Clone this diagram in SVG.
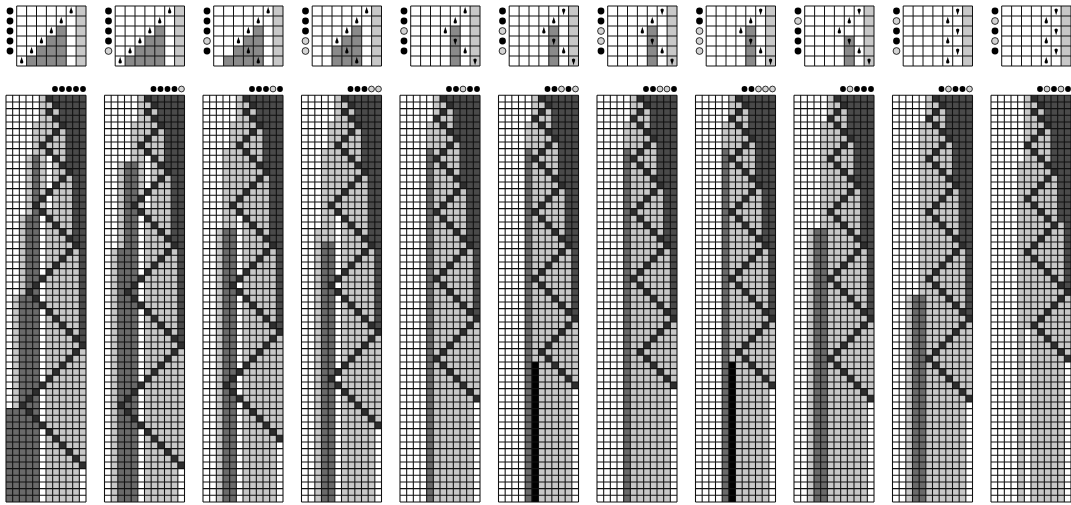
<svg xmlns="http://www.w3.org/2000/svg" xmlns:xlink="http://www.w3.org/1999/xlink" width="1071" height="505" viewBox="0 0 1071 505">
<style>
.w{fill:#fff}.l{fill:#c8c8c8}.m{fill:#6a6a6a}.d{fill:#4a4a4a}.k{fill:#000}.ic{fill:#8a8a8a}
.hp{fill:none;stroke:none;marker-start:url(#hc);marker-mid:url(#hc);marker-end:url(#hc)}
.gr{fill:none;stroke:#111;stroke-width:.16}
.ig{fill:none;stroke:#111;stroke-width:1}
.b1{fill:#000}.b0{fill:#d4d4d4;stroke:#000;stroke-width:.8}
</style>
<defs>
<marker id="hc" markerUnits="userSpaceOnUse" markerWidth="1" markerHeight="1" refX="0" refY="0" overflow="visible"><rect width="1" height="1" fill="#2e2e2e"/></marker>
<path id="tg" class="gr" d="M0 0V61M1 0V61M2 0V61M3 0V61M4 0V61M5 0V61M6 0V61M7 0V61M8 0V61M9 0V61M10 0V61M11 0V61M12 0V61M0 0H12M0 1H12M0 2H12M0 3H12M0 4H12M0 5H12M0 6H12M0 7H12M0 8H12M0 9H12M0 10H12M0 11H12M0 12H12M0 13H12M0 14H12M0 15H12M0 16H12M0 17H12M0 18H12M0 19H12M0 20H12M0 21H12M0 22H12M0 23H12M0 24H12M0 25H12M0 26H12M0 27H12M0 28H12M0 29H12M0 30H12M0 31H12M0 32H12M0 33H12M0 34H12M0 35H12M0 36H12M0 37H12M0 38H12M0 39H12M0 40H12M0 41H12M0 42H12M0 43H12M0 44H12M0 45H12M0 46H12M0 47H12M0 48H12M0 49H12M0 50H12M0 51H12M0 52H12M0 53H12M0 54H12M0 55H12M0 56H12M0 57H12M0 58H12M0 59H12M0 60H12M0 61H12"/>
<path id="ig" class="ig" d="M0 0V60M9.9 0V60M19.8 0V60M29.7 0V60M39.6 0V60M49.5 0V60M59.4 0V60M69.3 0V60M0 0H69.3M0 10H69.3M0 20H69.3M0 30H69.3M0 40H69.3M0 50H69.3M0 60H69.3"/>
<g id="pu"><path d="M0-4.2L1.3 0H-1.3Z"/><circle cy="0.9" r="1.7"/></g>
<g id="pd"><path d="M0 4.2L1.3 0H-1.3Z"/><circle cy="-0.9" r="1.7"/></g>
</defs>

<g id="p1" transform="translate(6 0)">
 <g transform="translate(0 95.3) scale(6.6667)">
  <rect class="w" width="12" height="61"/>
  <path class="l" d="M5 0H12V61H1V30H2V18H3V9H4V4H5Z"/>
  <path class="m" d="M4 9H5V61H0V47H2V30H3V18H4Z"/>
  <path class="w" d="M6 8h1v9h-1zM5 17h1v44h-1zM11 56h1v5h-1z"/>
  <path class="d" d="M7 0H12V37H11V22H10V11H9V4H8V1H7Z"/>
  <polyline class="hp" points="6,0 7,1 6,2 7,3 8,4 7,5 6,6 5,7 6,8 7,9 8,10 9,11 8,12 7,13 6,14 5,15 4,16 5,17 6,18 7,19 8,20 9,21 10,22 9,23 8,24 7,25 6,26 5,27 4,28 3,29 4,30 5,31 6,32 7,33 8,34 9,35 10,36 11,37 10,38 9,39 8,40 7,41 6,42 5,43 4,44 3,45 2,46 3,47 4,48 5,49 6,50 7,51 8,52 9,53 10,54 11,55"/>
  <use href="#tg"/>
 </g>
 <g transform="translate(10.7 6)">
  <rect class="l" x="59.4" width="9.9" height="60"/>
  <path class="ic" d="M39.6 20H49.5V60H9.9V50H19.8V40H29.7V30H39.6Z"/>
  <use href="#ig"/>
  <use href="#pu" x="54.45" y="5"/><use href="#pu" x="44.55" y="15"/><use href="#pu" x="34.65" y="25"/><use href="#pu" x="24.75" y="35"/><use href="#pu" x="14.85" y="45"/><use href="#pu" x="4.95" y="55"/>
 </g>
 <circle class="b1" cx="4" cy="11" r="3.4"/><circle class="b1" cx="4" cy="21" r="3.4"/><circle class="b1" cx="4" cy="31" r="3.4"/><circle class="b1" cx="4" cy="41" r="3.4"/><circle class="b1" cx="4" cy="51" r="3.4"/>
 <circle class="b1" cx="49" cy="89" r="2.9"/><circle class="b1" cx="56" cy="89" r="2.9"/><circle class="b1" cx="63" cy="89" r="2.9"/><circle class="b1" cx="70" cy="89" r="2.9"/><circle class="b1" cx="77" cy="89" r="2.9"/>
</g>

<g id="p2" transform="translate(104.5 0)">
 <g transform="translate(0 95.3) scale(6.6667)">
  <rect class="w" width="12" height="61"/>
  <path class="l" d="M5 0H12V61H1V23H2V10H4V4H5Z"/>
  <path class="m" d="M3 10H5V61H2V23H3Z"/>
  <path class="w" d="M6 8h1v9h-1zM5 17h1v44h-1zM11 56h1v5h-1z"/>
  <path class="d" d="M7 0H12V37H11V22H10V11H9V4H8V1H7Z"/>
  <polyline class="hp" points="6,0 7,1 6,2 7,3 8,4 7,5 6,6 5,7 6,8 7,9 8,10 9,11 8,12 7,13 6,14 5,15 4,16 5,17 6,18 7,19 8,20 9,21 10,22 9,23 8,24 7,25 6,26 5,27 4,28 3,29 4,30 5,31 6,32 7,33 8,34 9,35 10,36 11,37 10,38 9,39 8,40 7,41 6,42 5,43 4,44 3,45 2,46 3,47 4,48 5,49 6,50 7,51 8,52 9,53 10,54 11,55"/>
  <use href="#tg"/>
 </g>
 <g transform="translate(10.7 6)">
  <rect class="l" x="59.4" width="9.9" height="60"/>
  <path class="ic" d="M39.6 20H49.5V60H9.9V50H19.8V40H29.7V30H39.6Z"/>
  <use href="#ig"/>
  <use href="#pu" x="54.45" y="5"/><use href="#pu" x="44.55" y="15"/><use href="#pu" x="34.65" y="25"/><use href="#pu" x="24.75" y="35"/><use href="#pu" x="14.85" y="45"/><use href="#pu" x="4.95" y="55"/>
 </g>
 <circle class="b1" cx="4" cy="11" r="3.4"/><circle class="b1" cx="4" cy="21" r="3.4"/><circle class="b1" cx="4" cy="31" r="3.4"/><circle class="b1" cx="4" cy="41" r="3.4"/><circle class="b0" cx="4" cy="51" r="3.4"/>
 <circle class="b1" cx="49" cy="89" r="2.9"/><circle class="b1" cx="56" cy="89" r="2.9"/><circle class="b1" cx="63" cy="89" r="2.9"/><circle class="b1" cx="70" cy="89" r="2.9"/><circle class="b0" cx="77" cy="89" r="2.9"/>
</g>

<g id="p3" transform="translate(203 0)">
 <g transform="translate(0 95.3) scale(6.6667)">
  <rect class="w" width="12" height="61"/>
  <path class="l" d="M5 0H12V61H2V20H3V8H4V4H5Z"/>
  <path class="m" d="M3 20H5V61H3Z"/>
  <path class="w" d="M5 17h1v44h-1zM11 52h1v9h-1z"/>
  <path class="d" d="M7 0H12V35H11V22H10V11H9V4H8V1H7Z"/>
  <polyline class="hp" points="6,0 7,1 6,2 7,3 8,4 7,5 6,6 5,7 6,8 7,9 8,10 9,11 8,12 7,13 6,14 5,15 4,16 5,17 6,18 7,19 8,20 9,21 10,22 9,23 8,24 7,25 6,26 5,27 4,28 5,29 6,30 7,31 8,32 9,33 10,34 11,35 10,36 9,37 8,38 7,39 6,40 5,41 4,42 3,43 4,44 5,45 6,46 7,47 8,48 9,49 10,50 11,51"/>
  <use href="#tg"/>
 </g>
 <g transform="translate(10.7 6)">
  <rect class="l" x="59.4" width="9.9" height="60"/>
  <path class="ic" d="M39.6 20H49.5V60H9.9V50H19.8V40H29.7V30H39.6Z"/>
  <use href="#ig"/>
  <use href="#pu" x="54.45" y="5"/><use href="#pu" x="44.55" y="15"/><use href="#pu" x="34.65" y="25"/><use href="#pu" x="24.75" y="35"/><use href="#pu" x="34.65" y="45"/><use href="#pu" x="44.55" y="55"/>
 </g>
 <circle class="b1" cx="4" cy="11" r="3.4"/><circle class="b1" cx="4" cy="21" r="3.4"/><circle class="b1" cx="4" cy="31" r="3.4"/><circle class="b0" cx="4" cy="41" r="3.4"/><circle class="b1" cx="4" cy="51" r="3.4"/>
 <circle class="b1" cx="49" cy="89" r="2.9"/><circle class="b1" cx="56" cy="89" r="2.9"/><circle class="b1" cx="63" cy="89" r="2.9"/><circle class="b0" cx="70" cy="89" r="2.9"/><circle class="b1" cx="77" cy="89" r="2.9"/>
</g>

<g id="p4" transform="translate(301.5 0)">
 <g transform="translate(0 95.3) scale(6.6667)">
  <rect class="w" width="12" height="61"/>
  <path class="l" d="M5 0H12V61H2V20H3V8H4V4H5Z"/>
  <path class="m" d="M3 22H5V61H3Z"/>
  <path class="w" d="M5 17h1v44h-1zM11 50h1v11h-1z"/>
  <path class="d" d="M7 0H12V35H11V22H10V11H9V4H8V1H7Z"/>
  <polyline class="hp" points="6,0 7,1 6,2 7,3 8,4 7,5 6,6 5,7 6,8 7,9 8,10 9,11 8,12 7,13 6,14 5,15 4,16 5,17 6,18 7,19 8,20 9,21 10,22 9,23 8,24 7,25 6,26 5,27 4,28 5,29 6,30 7,31 8,32 9,33 10,34 11,35 10,36 9,37 8,38 7,39 6,40 5,41 4,42 5,43 6,44 7,45 8,46 9,47 10,48 11,49"/>
  <use href="#tg"/>
 </g>
 <g transform="translate(10.7 6)">
  <rect class="l" x="59.4" width="9.9" height="60"/>
  <path class="ic" d="M39.6 20H49.5V60H19.8V40H29.7V30H39.6Z"/>
  <use href="#ig"/>
  <use href="#pu" x="54.45" y="5"/><use href="#pu" x="44.55" y="15"/><use href="#pu" x="34.65" y="25"/><use href="#pu" x="24.75" y="35"/><use href="#pu" x="34.65" y="45"/><use href="#pu" x="44.55" y="55"/>
 </g>
 <circle class="b1" cx="4" cy="11" r="3.4"/><circle class="b1" cx="4" cy="21" r="3.4"/><circle class="b1" cx="4" cy="31" r="3.4"/><circle class="b0" cx="4" cy="41" r="3.4"/><circle class="b0" cx="4" cy="51" r="3.4"/>
 <circle class="b1" cx="49" cy="89" r="2.9"/><circle class="b1" cx="56" cy="89" r="2.9"/><circle class="b1" cx="63" cy="89" r="2.9"/><circle class="b0" cx="70" cy="89" r="2.9"/><circle class="b0" cx="77" cy="89" r="2.9"/>
</g>

<g id="p5" transform="translate(400 0)">
 <g transform="translate(0 95.3) scale(6.6667)">
  <rect class="w" width="12" height="61"/>
  <path class="l" d="M5 0H12V61H4V4H5Z"/>
  <path class="m" d="M4 8H5V61H4Z"/>
  <path class="w" d="M11 46h1v15h-1z"/>
  <path class="d" d="M7 0H12V33H11V22H10V13H9V6H8V1H7Z"/>
  <polyline class="hp" points="6,0 7,1 6,2 5,3 6,4 7,5 8,6 7,7 6,8 5,9 6,10 7,11 8,12 9,13 8,14 7,15 6,16 5,17 6,18 7,19 8,20 9,21 10,22 9,23 8,24 7,25 6,26 5,27 6,28 7,29 8,30 9,31 10,32 11,33 10,34 9,35 8,36 7,37 6,38 5,39 6,40 7,41 8,42 9,43 10,44 11,45"/>
  <use href="#tg"/>
 </g>
 <g transform="translate(10.7 6)">
  <rect class="l" x="59.4" width="9.9" height="60"/>
  <path class="ic" d="M39.6 20H49.5V60H39.6Z"/>
  <use href="#ig"/>
  <use href="#pu" x="54.45" y="5"/><use href="#pu" x="44.55" y="15"/><use href="#pu" x="34.65" y="25"/><use href="#pd" x="44.55" y="35"/><use href="#pu" x="54.45" y="45"/><use href="#pd" x="64.35" y="55"/>
 </g>
 <circle class="b1" cx="4" cy="11" r="3.4"/><circle class="b1" cx="4" cy="21" r="3.4"/><circle class="b0" cx="4" cy="31" r="3.4"/><circle class="b1" cx="4" cy="41" r="3.4"/><circle class="b1" cx="4" cy="51" r="3.4"/>
 <circle class="b1" cx="49" cy="89" r="2.9"/><circle class="b1" cx="56" cy="89" r="2.9"/><circle class="b0" cx="63" cy="89" r="2.9"/><circle class="b1" cx="70" cy="89" r="2.9"/><circle class="b1" cx="77" cy="89" r="2.9"/>
</g>

<g id="p6" transform="translate(498.5 0)">
 <g transform="translate(0 95.3) scale(6.6667)">
  <rect class="w" width="12" height="61"/>
  <path class="l" d="M5 0H12V61H4V4H5Z"/>
  <path class="m" d="M4 8H5V61H4Z"/>
  <path class="w" d="M11 44h1v17h-1z"/>
  <path class="k" d="M5 40h1v21h-1z"/>
  <path class="d" d="M7 0H12V33H11V22H10V13H9V6H8V1H7Z"/>
  <polyline class="hp" points="6,0 7,1 6,2 5,3 6,4 7,5 8,6 7,7 6,8 5,9 6,10 7,11 8,12 9,13 8,14 7,15 6,16 5,17 6,18 7,19 8,20 9,21 10,22 9,23 8,24 7,25 6,26 5,27 6,28 7,29 8,30 9,31 10,32 11,33 10,34 9,35 8,36 7,37 6,38 7,39 8,40 9,41 10,42 11,43"/>
  <use href="#tg"/>
 </g>
 <g transform="translate(10.7 6)">
  <rect class="l" x="59.4" width="9.9" height="60"/>
  <path class="ic" d="M39.6 20H49.5V60H39.6Z"/>
  <use href="#ig"/>
  <use href="#pd" x="54.45" y="5"/><use href="#pu" x="44.55" y="15"/><use href="#pu" x="34.65" y="25"/><use href="#pd" x="44.55" y="35"/><use href="#pu" x="54.45" y="45"/><use href="#pd" x="64.35" y="55"/>
 </g>
 <circle class="b1" cx="4" cy="11" r="3.4"/><circle class="b1" cx="4" cy="21" r="3.4"/><circle class="b0" cx="4" cy="31" r="3.4"/><circle class="b1" cx="4" cy="41" r="3.4"/><circle class="b0" cx="4" cy="51" r="3.4"/>
 <circle class="b1" cx="49" cy="89" r="2.9"/><circle class="b1" cx="56" cy="89" r="2.9"/><circle class="b0" cx="63" cy="89" r="2.9"/><circle class="b1" cx="70" cy="89" r="2.9"/><circle class="b0" cx="77" cy="89" r="2.9"/>
</g>

<g id="p7" transform="translate(597 0)">
 <g transform="translate(0 95.3) scale(6.6667)">
  <rect class="w" width="12" height="61"/>
  <path class="l" d="M5 0H12V61H4V4H5Z"/>
  <path class="m" d="M4 8H5V61H4Z"/>
  <path class="w" d="M11 44h1v17h-1z"/>
  <path class="d" d="M7 0H12V33H11V22H10V13H9V6H8V1H7Z"/>
  <polyline class="hp" points="6,0 7,1 6,2 5,3 6,4 7,5 8,6 7,7 6,8 5,9 6,10 7,11 8,12 9,13 8,14 7,15 6,16 5,17 6,18 7,19 8,20 9,21 10,22 9,23 8,24 7,25 6,26 5,27 6,28 7,29 8,30 9,31 10,32 11,33 10,34 9,35 8,36 7,37 6,38 7,39 8,40 9,41 10,42 11,43"/>
  <use href="#tg"/>
 </g>
 <g transform="translate(10.7 6)">
  <rect class="l" x="59.4" width="9.9" height="60"/>
  <path class="ic" d="M39.6 20H49.5V60H39.6Z"/>
  <use href="#ig"/>
  <use href="#pd" x="54.45" y="5"/><use href="#pu" x="44.55" y="15"/><use href="#pu" x="34.65" y="25"/><use href="#pd" x="44.55" y="35"/><use href="#pu" x="54.45" y="45"/><use href="#pd" x="64.35" y="55"/>
 </g>
 <circle class="b1" cx="4" cy="11" r="3.4"/><circle class="b1" cx="4" cy="21" r="3.4"/><circle class="b0" cx="4" cy="31" r="3.4"/><circle class="b0" cx="4" cy="41" r="3.4"/><circle class="b1" cx="4" cy="51" r="3.4"/>
 <circle class="b1" cx="49" cy="89" r="2.9"/><circle class="b1" cx="56" cy="89" r="2.9"/><circle class="b0" cx="63" cy="89" r="2.9"/><circle class="b0" cx="70" cy="89" r="2.9"/><circle class="b1" cx="77" cy="89" r="2.9"/>
</g>

<g id="p8" transform="translate(695.5 0)">
 <g transform="translate(0 95.3) scale(6.6667)">
  <rect class="w" width="12" height="61"/>
  <path class="l" d="M5 0H12V61H4V4H5Z"/>
  <path class="m" d="M4 8H5V61H4Z"/>
  <path class="w" d="M11 44h1v17h-1z"/>
  <path class="k" d="M5 40h1v21h-1z"/>
  <path class="d" d="M7 0H12V33H11V22H10V13H9V6H8V1H7Z"/>
  <polyline class="hp" points="6,0 7,1 6,2 5,3 6,4 7,5 8,6 7,7 6,8 5,9 6,10 7,11 8,12 9,13 8,14 7,15 6,16 5,17 6,18 7,19 8,20 9,21 10,22 9,23 8,24 7,25 6,26 5,27 6,28 7,29 8,30 9,31 10,32 11,33 10,34 9,35 8,36 7,37 6,38 7,39 8,40 9,41 10,42 11,43"/>
  <use href="#tg"/>
 </g>
 <g transform="translate(10.7 6)">
  <rect class="l" x="59.4" width="9.9" height="60"/>
  <path class="ic" d="M39.6 20H49.5V60H39.6Z"/>
  <use href="#ig"/>
  <use href="#pd" x="54.45" y="5"/><use href="#pu" x="44.55" y="15"/><use href="#pu" x="34.65" y="25"/><use href="#pd" x="44.55" y="35"/><use href="#pu" x="54.45" y="45"/><use href="#pd" x="64.35" y="55"/>
 </g>
 <circle class="b1" cx="4" cy="11" r="3.4"/><circle class="b1" cx="4" cy="21" r="3.4"/><circle class="b0" cx="4" cy="31" r="3.4"/><circle class="b0" cx="4" cy="41" r="3.4"/><circle class="b0" cx="4" cy="51" r="3.4"/>
 <circle class="b1" cx="49" cy="89" r="2.9"/><circle class="b1" cx="56" cy="89" r="2.9"/><circle class="b0" cx="63" cy="89" r="2.9"/><circle class="b0" cx="70" cy="89" r="2.9"/><circle class="b0" cx="77" cy="89" r="2.9"/>
</g>

<g id="p9" transform="translate(794 0)">
 <g transform="translate(0 95.3) scale(6.6667)">
  <rect class="w" width="12" height="61"/>
  <path class="l" d="M5 0H12V61H2V20H4V4H5Z"/>
  <path class="m" d="M3 20H5V61H3Z"/>
  <path class="w" d="M11 46h1v15h-1z"/>
  <path class="d" d="M7 0H12V33H11V22H10V13H9V6H8V1H7Z"/>
  <polyline class="hp" points="6,0 7,1 6,2 5,3 6,4 7,5 8,6 7,7 6,8 5,9 6,10 7,11 8,12 9,13 8,14 7,15 6,16 5,17 6,18 7,19 8,20 9,21 10,22 9,23 8,24 7,25 6,26 5,27 6,28 7,29 8,30 9,31 10,32 11,33 10,34 9,35 8,36 7,37 6,38 5,39 6,40 7,41 8,42 9,43 10,44 11,45"/>
  <use href="#tg"/>
 </g>
 <g transform="translate(10.7 6)">
  <rect class="l" x="59.4" width="9.9" height="60"/>
  <path class="ic" d="M39.6 30H49.5V60H39.6Z"/>
  <use href="#ig"/>
  <use href="#pd" x="54.45" y="5"/><use href="#pu" x="44.55" y="15"/><use href="#pu" x="34.65" y="25"/><use href="#pd" x="44.55" y="35"/><use href="#pu" x="54.45" y="45"/><use href="#pd" x="64.35" y="55"/>
 </g>
 <circle class="b1" cx="4" cy="11" r="3.4"/><circle class="b0" cx="4" cy="21" r="3.4"/><circle class="b1" cx="4" cy="31" r="3.4"/><circle class="b1" cx="4" cy="41" r="3.4"/><circle class="b1" cx="4" cy="51" r="3.4"/>
 <circle class="b1" cx="49" cy="89" r="2.9"/><circle class="b0" cx="56" cy="89" r="2.9"/><circle class="b1" cx="63" cy="89" r="2.9"/><circle class="b1" cx="70" cy="89" r="2.9"/><circle class="b1" cx="77" cy="89" r="2.9"/>
</g>

<g id="p10" transform="translate(892.5 0)">
 <g transform="translate(0 95.3) scale(6.6667)">
  <rect class="w" width="12" height="61"/>
  <path class="l" d="M5 0H12V61H2V30H4V4H5Z"/>
  <path class="m" d="M3 30H5V61H3Z"/>
  <path class="w" d="M11 46h1v15h-1z"/>
  <path class="d" d="M7 0H12V33H11V22H10V13H9V6H8V1H7Z"/>
  <polyline class="hp" points="6,0 7,1 6,2 5,3 6,4 7,5 8,6 7,7 6,8 5,9 6,10 7,11 8,12 9,13 8,14 7,15 6,16 5,17 6,18 7,19 8,20 9,21 10,22 9,23 8,24 7,25 6,26 5,27 6,28 7,29 8,30 9,31 10,32 11,33 10,34 9,35 8,36 7,37 6,38 5,39 6,40 7,41 8,42 9,43 10,44 11,45"/>
  <use href="#tg"/>
 </g>
 <g transform="translate(10.7 6)">
  <rect class="l" x="59.4" width="9.9" height="60"/>
  <use href="#ig"/>
  <use href="#pd" x="54.45" y="5"/><use href="#pu" x="44.55" y="15"/><use href="#pd" x="54.45" y="25"/><use href="#pu" x="44.55" y="35"/><use href="#pd" x="54.45" y="45"/><use href="#pu" x="44.55" y="55"/>
 </g>
 <circle class="b1" cx="4" cy="11" r="3.4"/><circle class="b0" cx="4" cy="21" r="3.4"/><circle class="b1" cx="4" cy="31" r="3.4"/><circle class="b1" cx="4" cy="41" r="3.4"/><circle class="b0" cx="4" cy="51" r="3.4"/>
 <circle class="b1" cx="49" cy="89" r="2.9"/><circle class="b0" cx="56" cy="89" r="2.9"/><circle class="b1" cx="63" cy="89" r="2.9"/><circle class="b1" cx="70" cy="89" r="2.9"/><circle class="b0" cx="77" cy="89" r="2.9"/>
</g>

<g id="p11" transform="translate(991 0)">
 <g transform="translate(0 95.3) scale(6.6667)">
  <rect class="w" width="12" height="61"/>
  <path class="l" d="M5 0H12V61H4V10H5Z"/>
  <path class="w" d="M5 35h1v26h-1zM11 40h1v21h-1z"/>
  <path class="d" d="M7 0H12V29H11V19H10V11H9V4H8V1H7Z"/>
  <polyline class="hp" points="6,0 7,1 6,2 7,3 8,4 7,5 6,6 5,7 6,8 7,9 8,10 9,11 8,12 7,13 6,14 5,15 6,16 7,17 8,18 9,19 8,20 7,21 6,22 5,23 6,24 7,25 8,26 9,27 10,28 11,29 10,30 9,31 8,32 7,33 6,34 7,35 8,36 9,37 10,38 11,39"/>
  <use href="#tg"/>
 </g>
 <g transform="translate(10.7 6)">
  <rect class="l" x="59.4" width="9.9" height="60"/>
  <use href="#ig"/>
  <use href="#pd" x="54.45" y="5"/><use href="#pu" x="44.55" y="15"/><use href="#pd" x="54.45" y="25"/><use href="#pu" x="44.55" y="35"/><use href="#pd" x="54.45" y="45"/><use href="#pu" x="44.55" y="55"/>
 </g>
 <circle class="b1" cx="4" cy="11" r="3.4"/><circle class="b0" cx="4" cy="21" r="3.4"/><circle class="b1" cx="4" cy="31" r="3.4"/><circle class="b0" cx="4" cy="41" r="3.4"/><circle class="b1" cx="4" cy="51" r="3.4"/>
 <circle class="b1" cx="49" cy="89" r="2.9"/><circle class="b0" cx="56" cy="89" r="2.9"/><circle class="b1" cx="63" cy="89" r="2.9"/><circle class="b0" cx="70" cy="89" r="2.9"/><circle class="b1" cx="77" cy="89" r="2.9"/>
</g>
</svg>
